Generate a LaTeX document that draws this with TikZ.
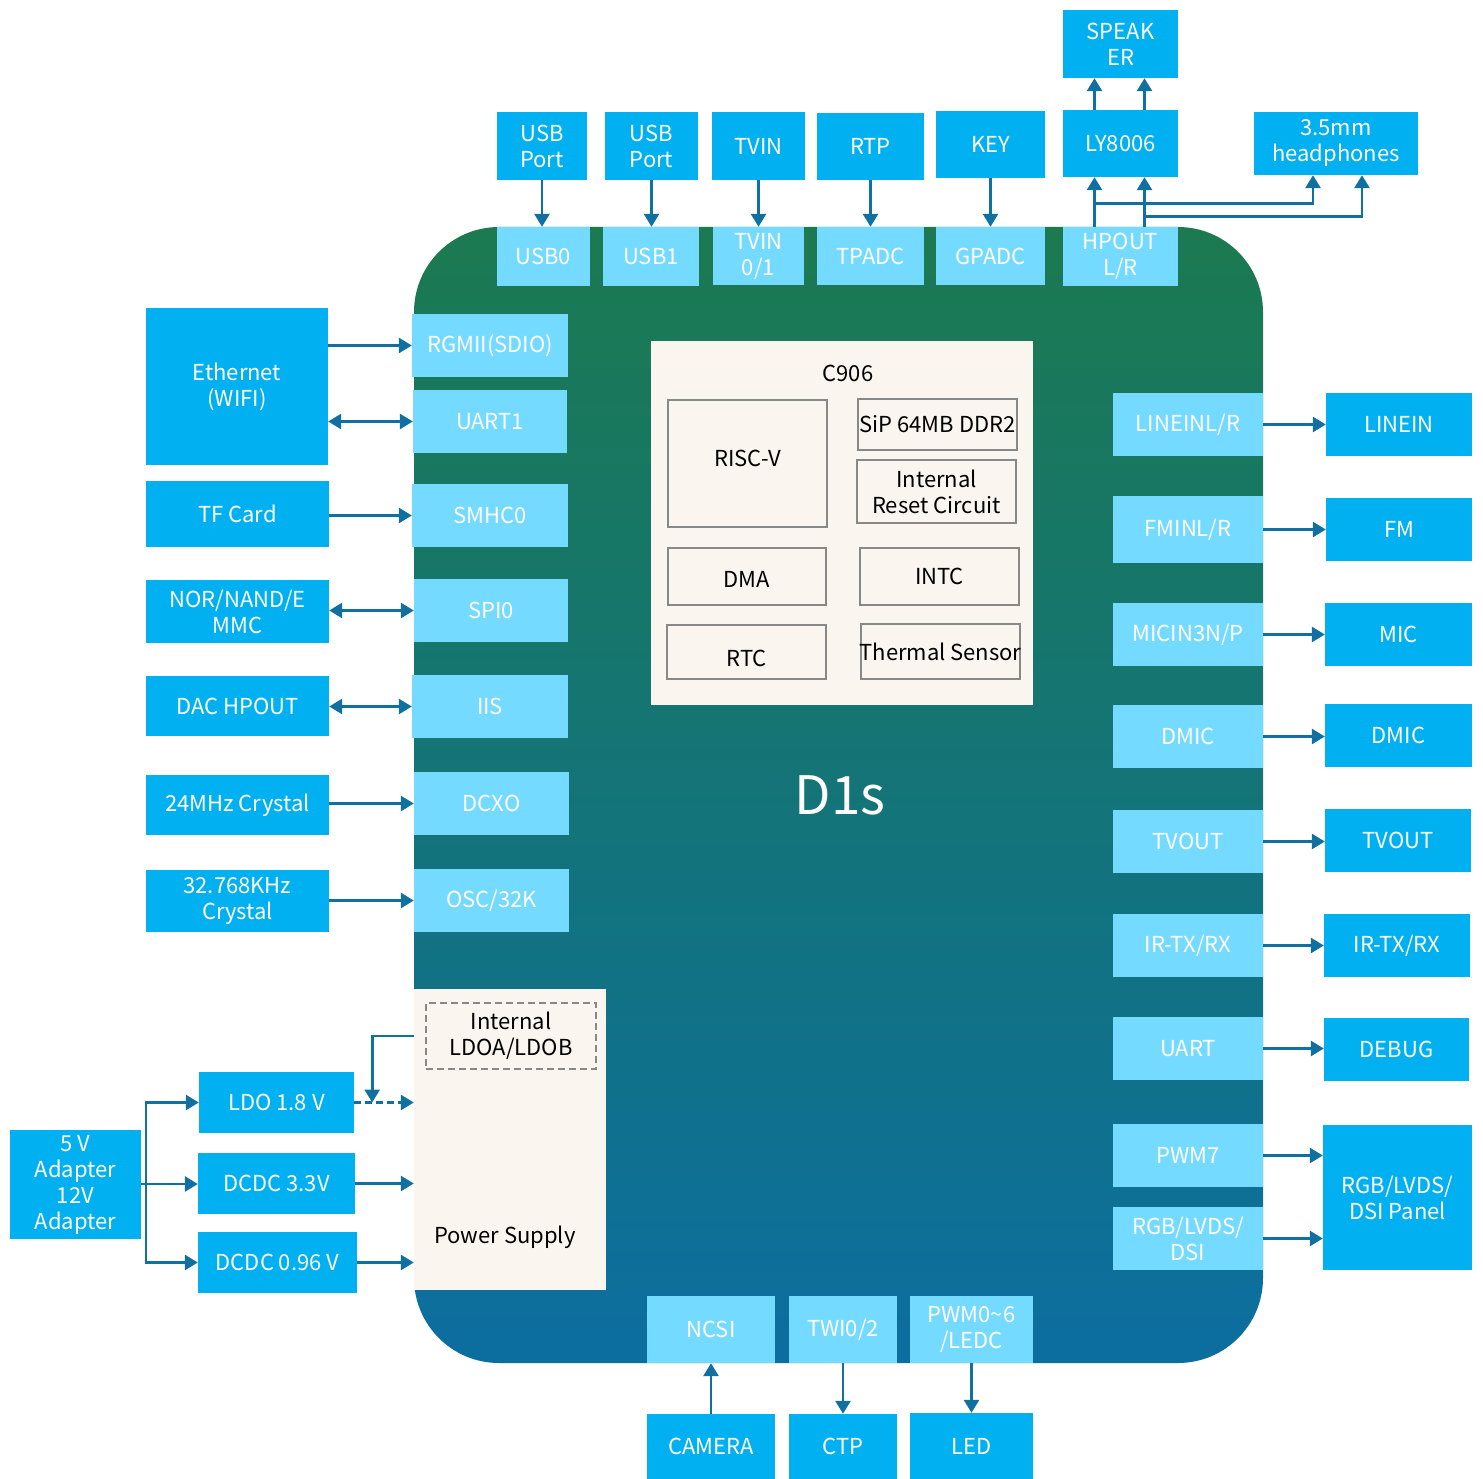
\documentclass[tikz,border=0pt]{standalone}
\usepackage{fontspec}
\setmainfont{Noto Sans CJK SC}
\usetikzlibrary{arrows.meta}
\definecolor{oboxc}{RGB}{0,176,240}
\definecolor{pboxc}{RGB}{117,218,255}
\definecolor{arrc}{RGB}{16,112,162}
\definecolor{beigec}{RGB}{251,245,239}
\definecolor{grayb}{RGB}{136,136,136}
\definecolor{chiptop}{RGB}{27,122,80}
\definecolor{chipbot}{RGB}{12,110,160}
\newcommand{\bx}[7]{\node[#2, minimum width={(#5)-(#3)}, minimum height={(#6)-(#4)}] (#1) at ({((#3)+(#5))/2},{((#4)+(#6))/2}) {#7};}
\begin{document}
\begin{tikzpicture}[x=1pt, y=-1pt, font=\fontsize{22}{26}\selectfont,
  ob/.style={fill=oboxc, text=white, align=center, inner sep=0pt},
  pb/.style={fill=pboxc, text=white, align=center, inner sep=0pt},
  ib/.style={draw=grayb, line width=2.5pt, text=black, align=center, inner sep=0pt},
  bg/.style={fill=beigec, inner sep=0pt},
  chipsty/.style={top color=chiptop, bottom color=chipbot, rounded corners=85pt, inner sep=0pt},
  arr/.style={draw=arrc, line width=2.8pt, -{Triangle[length=13pt,width=15pt]}},
  darr/.style={draw=arrc, line width=2.8pt, {Triangle[length=13pt,width=15pt]}-{Triangle[length=13pt,width=15pt]}},
  dsh/.style={dash pattern=on 7pt off 4pt}]
\useasboundingbox (0,0) rectangle (1483,1479);

% main chip
\bx{chip}{chipsty}{414}{227}{1263}{1363}{}
\node[text=white, font=\fontsize{53}{56}\selectfont] (d1s) at (840,795) {D1s};

% top outer boxes
\bx{usbp1}{ob}{497}{112}{587}{180}{USB\\Port}
\bx{usbp2}{ob}{605}{112}{698}{180}{USB\\Port}
\bx{tvin}{ob}{712}{112}{805}{180}{TVIN}
\bx{rtp}{ob}{817}{113}{924}{180}{RTP}
\bx{key}{ob}{936}{111}{1045}{178}{KEY}
\bx{ly}{ob}{1063}{110}{1178}{177}{LY8006}
\bx{spk}{ob}{1063}{10}{1178}{78}{SPEAK\\ER}
\bx{hp}{ob}{1254}{112}{1418}{175}{3.5mm\\headphones}

% top ports
\bx{usb0}{pb}{497}{227}{590}{286}{USB0}
\bx{usb1}{pb}{603}{227}{699}{286}{USB1}
\bx{tvin01}{pb}{713}{227}{804}{285}{TVIN\\0/1}
\bx{tpadc}{pb}{817}{227}{924}{285}{TPADC}
\bx{gpadc}{pb}{936}{227}{1045}{285}{GPADC}
\bx{hpout}{pb}{1063}{227}{1178}{286}{HPOUT\\L/R}

% left outer boxes
\bx{eth}{ob}{146}{308}{328}{465}{Ethernet\\(WIFI)}
\bx{tf}{ob}{146}{481}{329}{547}{TF Card}
\bx{nor}{ob}{146}{580}{329}{643}{NOR/NAND/E\\MMC}
\bx{dac}{ob}{146}{676}{329}{736}{DAC HPOUT}
\bx{x24}{ob}{146}{775}{329}{835}{24MHz Crystal}
\bx{x32}{ob}{146}{870}{329}{932}{32.768KHz\\Crystal}

% left ports
\bx{rgmii}{pb}{412}{314}{568}{377}{RGMII(SDIO)}
\bx{uart1}{pb}{413}{390}{567}{453}{UART1}
\bx{smhc}{pb}{412}{484}{568}{547}{SMHC0}
\bx{spi}{pb}{414}{579}{568}{642}{SPI0}
\bx{iis}{pb}{412}{675}{568}{738}{IIS}
\bx{dcxo}{pb}{414}{772}{569}{835}{DCXO}
\bx{osc}{pb}{414}{869}{569}{932}{OSC/32K}

% right ports
\bx{linein}{pb}{1113}{393}{1263}{456}{LINEINL/R}
\bx{fmin}{pb}{1113}{496}{1263}{563}{FMINL/R}
\bx{micin}{pb}{1113}{603}{1263}{666}{MICIN3N/P}
\bx{dmicp}{pb}{1113}{705}{1263}{768}{DMIC}
\bx{tvoutp}{pb}{1113}{810}{1263}{873}{TVOUT}
\bx{irp}{pb}{1113}{914}{1263}{977}{IR-TX/RX}
\bx{uartp}{pb}{1113}{1017}{1263}{1080}{UART}
\bx{pwm7}{pb}{1113}{1124}{1263}{1187}{PWM7}
\bx{rgbp}{pb}{1113}{1207}{1263}{1270}{RGB/LVDS/\\DSI}

% right outer
\bx{lineo}{ob}{1326}{393}{1472}{456}{LINEIN}
\bx{fmo}{ob}{1326}{498}{1472}{561}{FM}
\bx{mico}{ob}{1325}{603}{1472}{666}{MIC}
\bx{dmico}{ob}{1325}{704}{1472}{767}{DMIC}
\bx{tvouto}{ob}{1325}{809}{1471}{872}{TVOUT}
\bx{iro}{ob}{1324}{914}{1470}{977}{IR-TX/RX}
\bx{dbg}{ob}{1324}{1018}{1469}{1081}{DEBUG}
\bx{panel}{ob}{1323}{1125}{1472}{1270}{RGB/LVDS/\\DSI Panel}

% bottom ports and outer
\bx{ncsi}{pb}{647}{1296}{775}{1363}{NCSI}
\bx{twi}{pb}{789}{1296}{897}{1363}{TWI0/2}
\bx{pwm}{pb}{910}{1296}{1033}{1363}{PWM0\textasciitilde 6\\/LEDC}
\bx{cam}{ob}{647}{1414}{775}{1479}{CAMERA}
\bx{ctp}{ob}{789}{1414}{897}{1479}{CTP}
\bx{led}{ob}{910}{1413}{1033}{1479}{LED}

% C906 block
\bx{c906}{bg}{651}{341}{1033}{705}{}
\node[text=black] (c906t) at (848,373) {C906};
\bx{risc}{ib, text depth=10pt}{668}{400}{827}{527}{RISC-V}
\bx{sip}{ib}{858}{399}{1017}{450}{\makebox[0pt]{SiP 64MB DDR2}}
\bx{rst}{ib}{857}{460}{1016}{523}{Internal\\Reset Circuit}
\bx{dma}{ib, text depth=0pt, text height=22pt}{668}{548}{826}{605}{DMA}
\bx{intc}{ib}{860}{548}{1019}{605}{INTC}
\bx{rtc}{ib, text depth=0pt, text height=28pt}{667}{625}{826}{679}{RTC}
\bx{therm}{ib}{861}{624}{1020}{679}{\makebox[0pt]{Thermal Sensor}}

% power supply
\bx{ps}{bg}{414}{989}{606}{1290}{}
\bx{ldoab}{ib,dsh}{426}{1003}{596}{1069}{Internal\\LDOA/LDOB}
\node[text=black] (pstext) at (505,1237) {Power Supply};
\bx{adp}{ob}{10}{1130}{141}{1239}{5 V\\Adapter\\12V\\Adapter}
\bx{ldo}{ob}{199}{1072}{354}{1133}{LDO 1.8 V}
\bx{d33}{ob}{198}{1153}{355}{1214}{DCDC 3.3V}
\bx{d096}{ob}{198}{1232}{357}{1293}{DCDC 0.96 V}
\coordinate (br) at (146,1184);

% ---- connectors ----
% top
\draw[arr] (usbp1.south) -- (usbp1.south |- usb0.north);
\draw[arr] (usbp2.south) -- (usbp2.south |- usb1.north);
\draw[arr] (tvin.south) -- (tvin.south |- tvin01.north);
\draw[arr] (rtp.south) -- (rtp.south |- tpadc.north);
\draw[arr] (key.south) -- (key.south |- gpadc.north);
\draw[arr] ([xshift=-26pt]hpout.north) -- ([xshift=-26pt]ly.south);
\draw[arr] ([xshift=24pt]hpout.north) -- ([xshift=24pt]ly.south);
\draw[arr] ([xshift=-26pt]ly.north) -- ([xshift=-26pt]spk.south);
\draw[arr] ([xshift=24pt]ly.north) -- ([xshift=24pt]spk.south);
\draw[arr] ([xshift=-26pt,yshift=23pt]hpout.north) -| ([xshift=-23pt]hp.south);
\draw[arr] ([xshift=24pt,yshift=10pt]hpout.north) -| ([xshift=26pt]hp.south);

% left
\draw[arr] (rgmii.west -| eth.east) -- (rgmii.west);
\draw[darr] (uart1.west -| eth.east) -- (uart1.west);
\draw[arr] (smhc.west -| tf.east) -- (smhc.west);
\draw[darr] (spi.west -| nor.east) -- (spi.west);
\draw[darr] (iis.west -| dac.east) -- (iis.west);
\draw[arr] (dcxo.west -| x24.east) -- (dcxo.west);
\draw[arr] (osc.west -| x32.east) -- (osc.west);

% right
\draw[arr] (linein.east) -- (linein.east -| lineo.west);
\draw[arr] (fmin.east) -- (fmin.east -| fmo.west);
\draw[arr] (micin.east) -- (micin.east -| mico.west);
\draw[arr] (dmicp.east) -- (dmicp.east -| dmico.west);
\draw[arr] (tvoutp.east) -- (tvoutp.east -| tvouto.west);
\draw[arr] (irp.east) -- (irp.east -| iro.west);
\draw[arr] (uartp.east) -- (uartp.east -| dbg.west);
\draw[arr] (pwm7.east) -- (pwm7.east -| panel.west);
\draw[arr] (rgbp.east) -- (rgbp.east -| panel.west);

% bottom
\draw[arr] (cam.north) -- (cam.north |- ncsi.south);
\draw[arr] (twi.south) -- (twi.south |- ctp.north);
\draw[arr] (pwm.south) -- (pwm.south |- led.north);

% power
\draw[arr] (adp.east |- br) -- (br -| d33.west);
\draw[arr] (br) |- (ldo.west);
\draw[arr] (br) |- (d096.west);
\draw[arr,dsh] (ldo.east) -- (ldo.east -| ps.west);
\draw[arr] (d33.east) -- (d33.east -| ps.west);
\draw[arr] (d096.east) -- (d096.east -| ps.west);
\draw[arr] (ps.west |- ldoab.west) -| ([xshift=18pt]ldo.east);
\end{tikzpicture}
\end{document}
